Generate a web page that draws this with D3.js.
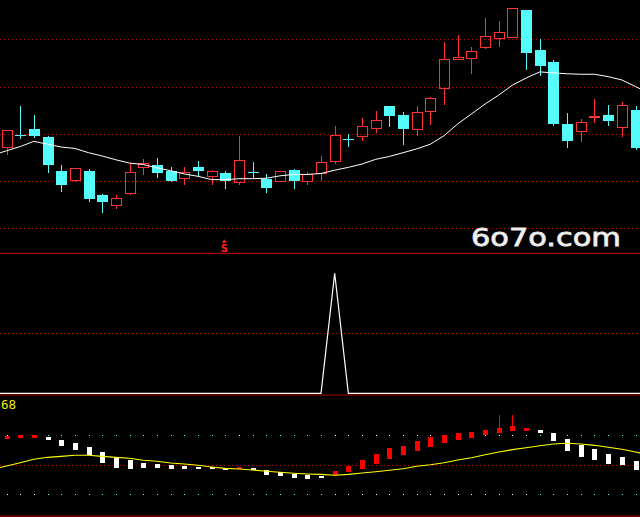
<!DOCTYPE html>
<html>
<head>
<meta charset="utf-8">
<script src="https://cdn.jsdelivr.net/npm/d3@7/dist/d3.min.js"></script>
<style>
  html, body { margin: 0; padding: 0; background: #000; overflow: hidden; }
  svg { display: block; }
</style>
</head>
<body>
<svg id="chart" width="640" height="517"></svg>
<script>
// ---------------- data ----------------
const open  = [13.71,13.97,14.10,13.93,13.21,13.01,13.21,12.70,12.48,12.73,13.28,13.34,13.21,13.05,13.30,13.09,13.17,12.97,13.19,13.04,12.99,13.23,12.99,13.15,13.41,13.88,13.94,14.12,14.59,14.40,14.09,14.47,14.96,15.58,15.59,15.83,16.02,16.04,16.63,15.77,15.52,14.21,14.05,14.34,14.40,14.13,14.50];
const high  = [14.07,14.59,14.40,13.95,13.34,13.27,13.26,12.73,12.70,13.38,13.47,13.49,13.30,13.30,13.42,13.23,13.21,13.95,13.40,13.15,13.21,13.26,13.20,13.54,14.17,14.00,14.34,14.48,14.59,14.46,14.59,14.77,15.94,16.09,15.84,16.45,16.39,16.66,16.63,16.01,15.56,14.44,14.31,14.74,14.61,14.67,14.59];
const low   = [13.56,13.88,13.92,13.16,12.77,12.99,12.56,12.33,12.41,12.71,13.13,13.07,12.99,12.92,13.11,12.92,12.84,12.92,13.05,12.75,12.97,12.84,12.92,13.01,13.37,13.73,13.85,14.02,14.15,13.77,13.96,14.19,14.62,15.57,15.27,15.80,15.84,16.04,15.36,15.23,14.17,13.71,13.83,14.23,14.17,13.94,13.66];
const close = [14.07,13.97,13.95,13.33,12.92,13.27,12.62,12.56,12.64,13.19,13.38,13.16,13.01,13.18,13.21,13.21,13.01,13.44,13.19,12.86,13.21,13.01,13.13,13.40,13.97,13.88,14.16,14.29,14.38,14.11,14.45,14.75,15.58,15.61,15.75,16.06,16.15,16.66,15.72,15.44,14.21,13.85,14.24,14.37,14.28,14.60,13.71];
const ma    = [13.64,13.73,13.84,13.78,13.72,13.69,13.60,13.53,13.45,13.38,13.35,13.28,13.22,13.15,13.10,13.03,13.03,13.05,13.05,13.06,13.11,13.14,13.14,13.16,13.23,13.29,13.36,13.46,13.52,13.60,13.68,13.78,13.96,14.21,14.42,14.63,14.82,15.03,15.18,15.31,15.29,15.27,15.26,15.26,15.21,15.14,15.00];
const priceTicks = [12, 13, 14, 15, 16];

// signal marker (index into candles) shown at bottom of price panel
const signalMarks = [16];
const signalLabel = "S";

// middle panel signal series
const signal = [0,0,0,0,0,0,0,0,0,0,0,0,0,0,0,0,0,0,0,0,0,0,0,0,1,0,0,0,0,0,0,0,0,0,0,0,0,0,0,0,0,0,0,0,0,0,0];
const signalTicks = [0.5];

// bottom oscillator
const oscOpen  = [76.5,77.6,77.6,78.3,75.2,72.5,68.1,63.0,56.9,54.9,51.8,50.8,49.8,48.8,47.8,47.5,46.7,45.7,46.7,44.7,42.7,40.9,39.9,38.6,39.6,42.7,45.7,50.8,55.9,60.0,64.0,68.1,72.2,75.2,77.3,80.3,82.3,84.4,84.4,85.4,82.3,76.2,70.1,66.1,61.0,57.9,53.9];
const oscClose = [79.3,80.3,80.3,75.2,69.1,65.0,60.0,51.8,46.9,45.7,46.7,46.7,45.7,45.7,45.7,45.7,44.7,48.1,44.7,39.6,38.6,36.6,35.6,36.6,43.7,49.1,54.9,61.0,67.1,69.1,74.2,78.3,80.3,82.3,83.4,85.4,87.4,89.5,87.4,82.3,74.2,64.0,57.9,54.9,50.8,49.8,44.7];
const oscWicks = [{i: 36, v: 100.6}, {i: 37, v: 100.6}];
const oscMA    = [48.8,52.1,55.6,57.6,58.6,59.7,59.7,58.6,57.6,56.6,54.6,53.6,51.8,50.8,49.5,47.8,46.4,45.7,44.7,43.4,42.4,41.4,40.7,40.3,39.3,40.3,41.7,43.0,44.4,46.0,48.5,50.1,52.1,54.9,57.2,60.3,63.0,65.4,67.4,69.4,71.2,71.9,71.2,69.8,67.8,65.8,63.0];
const oscLevelDots = [20, 80];
const oscMid = [50];
const oscLabel = "68";

const watermark = "6o7o.com";

// ---------------- layout ----------------
const W = 640, H = 517;
const RED = "#ff3232", CYAN = "#54fcfc", GRID = "#b00000";
const svg = d3.select("#chart");
svg.append("rect").attr("width", W).attr("height", H).attr("fill", "#000");

const n = close.length;
const x = d3.scaleLinear().domain([0, n - 1]).range([6.5, 635.5]);
const yP = d3.scaleLinear().domain([12, 16]).range([228.3, 39.3]);
const yS = d3.scaleLinear().domain([0, 1]).range([393.3, 273.3]);
const yO = d3.scaleLinear().domain([20, 80]).range([494.3, 435.3]);

// line points with linear extrapolation to panel edges
function extPoints(vals, ys) {
  const pts = vals.map((v, i) => [x(i), ys(v)]);
  const [a, b] = [pts[0], pts[1]];
  const y0 = a[1] + (b[1] - a[1]) * (0 - a[0]) / (b[0] - a[0]);
  const [c, d] = [pts[pts.length - 2], pts[pts.length - 1]];
  const y1 = d[1] + (d[1] - c[1]) * (W - d[0]) / (d[0] - c[0]);
  return [[0, y0], ...pts, [W, y1]];
}
const lineGen = d3.line();

// ---------- panel separators ----------
svg.append("g").selectAll("line").data([253.3, 395, 516]).join("line")
  .attr("x1", 0).attr("x2", W).attr("y1", d => d).attr("y2", d => d)
  .attr("stroke", GRID).attr("stroke-width", 1.2);

// ---------- price panel ----------
const gP = svg.append("g");
gP.selectAll("line.grid").data(priceTicks).join("line").attr("class", "grid")
  .attr("x1", 0).attr("x2", W).attr("y1", d => Math.round(yP(d)) + 0.5).attr("y2", d => Math.round(yP(d)) + 0.5)
  .attr("stroke", GRID).attr("stroke-dasharray", "1,3");

const candles = d3.range(n).map(i => ({i, o: open[i], h: high[i], l: low[i], c: close[i], up: close[i] > open[i]}));
const cg = gP.append("g").attr("shape-rendering", "crispEdges");
candles.forEach(d => {
  const cx = Math.round(x(d.i)) + 0.5;
  const color = d.up ? RED : CYAN;
  const top = yP(Math.max(d.o, d.c)), bot = yP(Math.min(d.o, d.c));
  // wicks
  cg.append("line").attr("x1", cx).attr("x2", cx).attr("y1", yP(d.h)).attr("y2", top).attr("stroke", color);
  cg.append("line").attr("x1", cx).attr("x2", cx).attr("y1", bot).attr("y2", yP(d.l)).attr("stroke", color);
  if (d.up) {
    cg.append("rect").attr("x", cx - 5).attr("y", top).attr("width", 10).attr("height", Math.max(bot - top, 1))
      .attr("fill", "none").attr("stroke", color).attr("stroke-width", 1);
  } else if (bot - top < 1) {
    cg.append("line").attr("x1", cx - 5.5).attr("x2", cx + 5.5).attr("y1", top).attr("y2", top).attr("stroke", color);
  } else {
    cg.append("rect").attr("x", cx - 5.5).attr("y", top).attr("width", 11).attr("height", bot - top).attr("fill", color);
  }
});

gP.append("path").attr("d", lineGen(extPoints(ma, yP)))
  .attr("fill", "none").attr("stroke", "#ffffff").attr("stroke-width", 1);

// signal marker
signalMarks.forEach(i => {
  const cx = x(i) - 1;
  gP.append("path").attr("d", `M${cx - 2.5},242.8 L${cx},239.3 L${cx + 2.5},242.8 Z`).attr("fill", "#ff2020");
  gP.append("text").attr("x", cx).attr("y", 251.5).attr("text-anchor", "middle")
    .attr("font-family", "DejaVu Sans").attr("font-weight", "bold").attr("font-size", 10)
    .attr("fill", "#ff2020").text(signalLabel);
});

// watermark
gP.append("text").attr("x", 471).attr("y", 245.5)
  .attr("font-family", "DejaVu Sans").attr("font-size", 25.5)
  .attr("textLength", 150).attr("lengthAdjust", "spacingAndGlyphs")
  .attr("fill", "#f4f4f4").attr("stroke", "#e8e8e8").attr("stroke-width", 0.8)
  .text(watermark);

// ---------- signal panel ----------
const gS = svg.append("g");
gS.selectAll("line").data(signalTicks).join("line")
  .attr("x1", 0).attr("x2", W).attr("y1", d => Math.round(yS(d)) + 0.5).attr("y2", d => Math.round(yS(d)) + 0.5)
  .attr("stroke", GRID).attr("stroke-dasharray", "1,3");
gS.append("path").attr("d", lineGen(extPoints(signal, yS)))
  .attr("fill", "none").attr("stroke", "#ffffff").attr("stroke-width", 1.2);

// ---------- oscillator panel ----------
const gO = svg.append("g");
gO.selectAll("line.mid").data(oscMid).join("line").attr("class", "mid")
  .attr("x1", 0).attr("x2", W).attr("y1", d => Math.round(yO(d)) + 0.5).attr("y2", d => Math.round(yO(d)) + 0.5)
  .attr("stroke", GRID).attr("stroke-dasharray", "1,3");

const osc = d3.range(n).map(i => ({i, o: oscOpen[i], c: oscClose[i], up: oscClose[i] > oscOpen[i]}));
// level dots at candle positions
oscLevelDots.forEach(lv => {
  gO.append("g").attr("shape-rendering", "crispEdges").selectAll("rect").data(osc).join("rect")
    .attr("x", d => Math.round(x(d.i)) - 0.5).attr("y", Math.round(yO(lv)) - 0.5)
    .attr("width", 1.6).attr("height", 1.6)
    .attr("fill", d => d.up ? "#ffffff" : CYAN);
});

gO.append("g").selectAll("line").data(oscWicks).join("line")
  .attr("x1", d => Math.round(x(d.i)) + 0.5).attr("x2", d => Math.round(x(d.i)) + 0.5)
  .attr("y1", d => yO(d.v)).attr("y2", d => yO(Math.max(oscOpen[d.i], oscClose[d.i])))
  .attr("stroke", "#ff0000");

gO.append("g").attr("shape-rendering", "crispEdges").selectAll("rect").data(osc).join("rect")
  .attr("x", d => Math.round(x(d.i)) - 2)
  .attr("y", d => yO(Math.max(d.o, d.c)))
  .attr("width", 5)
  .attr("height", d => Math.max(Math.abs(yO(d.o) - yO(d.c)), 1.5))
  .attr("fill", d => d.up ? "#ff0000" : "#ffffff");

gO.append("path").attr("d", lineGen(extPoints(oscMA, yO)))
  .attr("fill", "none").attr("stroke", "#ffff00").attr("stroke-width", 1.1);

gO.append("text").attr("x", 1).attr("y", 408.5)
  .attr("font-family", "DejaVu Sans Mono").attr("font-size", 12.5)
  .attr("fill", "#f0f000").text(oscLabel);
</script>
</body>
</html>
